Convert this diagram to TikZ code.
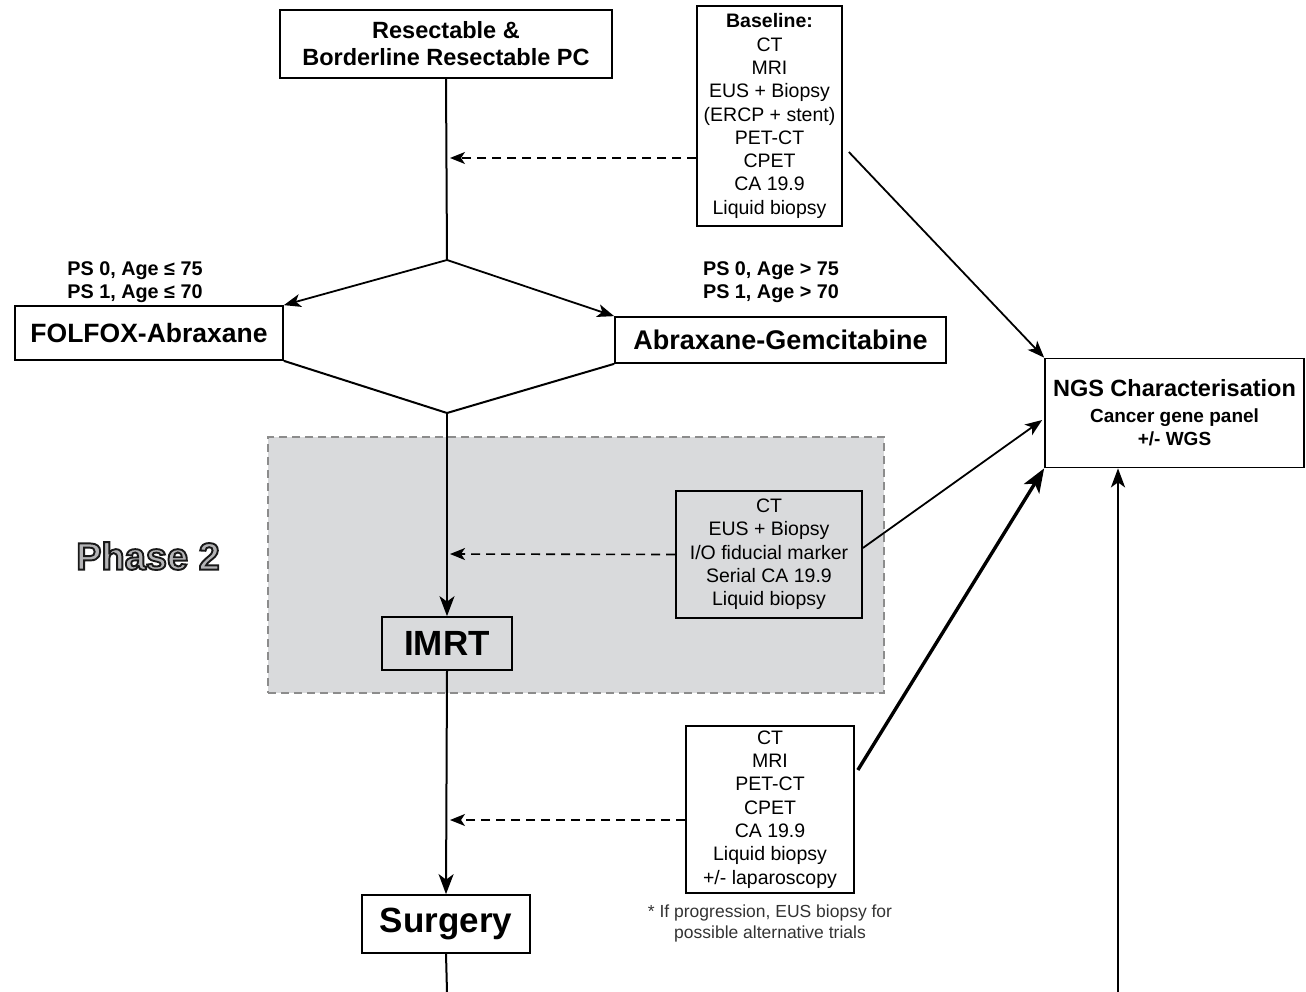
\documentclass[tikz,border=0pt]{standalone}
\usepackage{fontspec}
\setmainfont{Liberation Sans}
\newfontfamily\outlinefont[FakeBold=5]{Liberation Sans Bold}
\usetikzlibrary{arrows.meta,calc}
\definecolor{phg}{HTML}{D9DADC}
\definecolor{dashg}{HTML}{8C8C8C}
\definecolor{ph2fill}{HTML}{B4B4B6}
\newcommand{\myfs}[2]{\fontsize{#1}{#2}\selectfont}
\tikzset{
  box/.style={draw, line width=1.7pt, inner sep=0pt, align=center},
  lst/.style={box, font=\myfs{19.5}{23.3}},
  ln/.style={line width=2pt},
  arr/.style={line width=2pt, -{Stealth[length=20pt,width=15pt,inset=5.5pt]}},
  sarr/.style={line width=1.8pt, -{Stealth[length=17pt,width=13pt,inset=4.5pt]}},
  tarr/.style={line width=3.4pt, -{Stealth[length=24pt,width=18pt,inset=6pt]}},
  darr/.style={line width=1.6pt, dash pattern=on 9pt off 6pt, -{Stealth[length=15pt,width=12pt,inset=4pt]}},
  lab/.style={font=\bfseries\myfs{19.8}{23}, align=center, inner sep=0pt}
}
\begin{document}
\begin{tikzpicture}[x=1pt,y=-1pt]
\useasboundingbox (0,0) rectangle (1306,992);
% phase 2 region
\node[draw=dashg, line width=1.5pt, dash pattern=on 8pt off 5pt, fill=phg,
      minimum width=616pt, minimum height=256pt, inner sep=0pt] (ph) at (576,565) {};
\node[font=\outlinefont\myfs{38}{44}, inner sep=0pt] (ph2) at (148,556)
  {\color{ph2fill}\special{pdf:code 0.1 G}Phase 2};

% nodes
\node[box, minimum width=332pt, minimum height=68pt, font=\bfseries\myfs{23.5}{27}] (top) at (446,44)
  {Resectable \&\\Borderline Resectable PC};
\node[lst, minimum width=145pt, minimum height=220pt] (base) at (769.5,116)
  {\textbf{Baseline:}\\CT\\MRI\\EUS + Biopsy\\(ERCP + stent)\\PET-CT\\CPET\\CA 19.9\\Liquid biopsy};
\node[lab] (lab1) at (135,282) {PS 0, Age ≤ 75\\PS 1, Age ≤ 70};
\node[lab] (lab2) at (771,282) {PS 0, Age > 75\\PS 1, Age > 70};
\node[box, minimum width=268pt, minimum height=54pt, font=\bfseries\myfs{26.5}{30}] (folfox) at (149,333)
  {FOLFOX-Abraxane};
\node[box, minimum width=331pt, minimum height=46pt, font=\bfseries\myfs{27}{30}] (abrax) at (780.5,340)
  {Abraxane-Gemcitabine};
\node[box, minimum width=259pt, minimum height=109pt, font=\bfseries\myfs{19}{23}] (ngs) at (1174.5,413)
  {{\myfs{23.5}{26}NGS Characterisation}\\[3pt]Cancer gene panel\\+/- WGS};
\node[box, fill=phg, minimum width=130pt, minimum height=53pt, font=\bfseries\myfs{35}{40}] (imrt) at (447,643.5)
  {IMRT};
\node[lst, fill=phg, minimum width=186pt, minimum height=127pt] (mid) at (769,554.5)
  {CT\\EUS + Biopsy\\I/O fiducial marker\\Serial CA 19.9\\Liquid biopsy};
\node[lst, minimum width=168pt, minimum height=167pt] (low) at (770,809.5)
  {CT\\MRI\\PET-CT\\CPET\\CA 19.9\\Liquid biopsy\\+/- laparoscopy};
\node[box, minimum width=168pt, minimum height=58pt, font=\bfseries\myfs{35}{40}] (surg) at (446,924)
  {Surgery};
\node[font=\myfs{17.5}{21}, align=center, inner sep=0pt, text=black!80] (note) at (770,923)
  {* If progression, EUS biopsy for\\possible alternative trials};

% coordinates
\coordinate (apex) at (447,260);
\coordinate (junc) at (447,413);
\coordinate (bot) at (447,992);
\coordinate (d1) at (450,158);
\coordinate (d2) at (450,554);
\coordinate (d3) at (450,820);
\coordinate (ngsb) at (1118,992);

% main flow
\draw[ln] (top.south) -- (apex);
\draw[sarr] (apex) -- (folfox.north east);
\draw[sarr] (apex) -- (abrax.north west);
\draw[ln] (folfox.south east) -- (junc) -- (abrax.south west);
\draw[arr] (junc) -- (imrt.north);
\draw[arr] (imrt.south) -- (surg.north);
\draw[ln] (surg.south) -- (bot);

% dashed
\draw[darr] ([yshift=-42pt]base.west) -- (d1);
\draw[darr] (mid.west) -- (d2);
\draw[darr] ([yshift=-10.5pt]low.west) -- (d3);

% to NGS
\draw[sarr] ([xshift=6pt,yshift=-36pt]base.east) -- (ngs.north west);
\draw[sarr] ([yshift=6.5pt]mid.east) -- ([xshift=-2pt,yshift=-7pt]ngs.west);
\draw[tarr] ([xshift=3pt,yshift=39.5pt]low.east) -- (ngs.south west);
\draw[line width=2.6pt, -{Stealth[length=19pt,width=14pt,inset=5pt]}] (ngsb) -- (ngsb |- ngs.south);
\end{tikzpicture}
\end{document}
